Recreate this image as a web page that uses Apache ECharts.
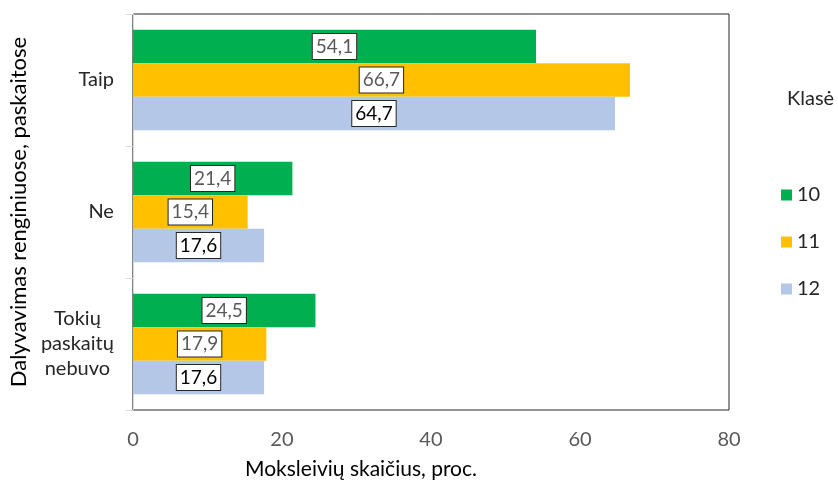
<!DOCTYPE html>
<html><head><meta charset="utf-8">
<script src="https://cdn.jsdelivr.net/npm/echarts@6/dist/echarts.min.js"></script>
<style>html,body{margin:0;padding:0;background:#fff}#c{width:838px;height:485px}</style>
</head><body><div id="c"></div>
<script>
const categories = ['Taip', 'Ne', 'Tokių\npaskaitų\nnebuvo'];
const seriesNames = ['10', '11', '12'];
const values10 = [54.1, 21.4, 24.5];
const values11 = [66.7, 15.4, 17.9];
const values12 = [64.7, 17.6, 17.6];
const xTicks = [0, 20, 40, 60, 80];

const colors = ['#00B050', '#FFC000', '#B4C7E7'];
const labelColors = ['#595959', '#595959', '#000000'];
const FONT = 'Lato';
const data = [values10, values11, values12];

const chart = echarts.init(document.getElementById('c'));
chart.setOption({
  animation: false,
  textStyle: { fontFamily: FONT },
  title: {
    text: 'Klasė', left: 787, top: 89, padding: 0,
    textStyle: { fontFamily: FONT, fontSize: 20, fontWeight: 'normal', color: '#262626' }
  },
  legend: {
    orient: 'vertical', left: 781, top: 185, itemGap: 27, padding: 0,
    itemWidth: 11, itemHeight: 11, icon: 'rect',
    data: seriesNames,
    textStyle: { fontFamily: FONT, fontSize: 20, color: '#262626' }
  },
  grid: {
    left: 131, right: 109, top: 14, bottom: 75,
    show: true, borderColor: '#262626', borderWidth: 1, backgroundColor: '#fff'
  },
  xAxis: {
    type: 'value', min: xTicks[0], max: xTicks[xTicks.length - 1], interval: 20,
    splitLine: { show: false },
    axisLine: { show: false }, axisTick: { show: false },
    axisLabel: { color: '#595959', fontSize: 20, margin: 20, fontFamily: FONT }
  },
  yAxis: {
    type: 'category', data: categories, inverse: true,
    name: 'Dalyvavimas renginiuose, paskaitose',
    nameLocation: 'middle', nameGap: 91, nameRotate: 90,
    nameTextStyle: { fontSize: 22, color: '#000', fontFamily: FONT },
    axisLine: { show: true, lineStyle: { color: '#D9D9D9', width: 1 } },
    axisTick: { show: true, length: 7, lineStyle: { color: '#D9D9D9' } },
    axisLabel: {
      color: '#262626', fontSize: 20, margin: 19, fontFamily: FONT, lineHeight: 25,
      formatter: function (v) {
        return v.split('\n').map(s => '{c|' + s + '}').join('\n');
      },
      rich: { c: { align: 'center', fontSize: 20, lineHeight: 25, color: '#262626', fontFamily: FONT } }
    }
  },
  graphic: [{
    type: 'text', left: 245, top: 459,
    style: { text: 'Moksleivių skaičius, proc.', font: '21px Lato', fill: '#000' }
  }],
  series: seriesNames.map((n, i) => ({
    name: n, type: 'bar', data: data[i],
    barGap: '0%', barCategoryGap: '24%',
    itemStyle: { color: colors[i] },
    label: {
      show: true, position: 'inside',
      formatter: p => String(p.value).replace('.', ','),
      color: labelColors[i], fontSize: 19, fontFamily: FONT,
      backgroundColor: '#fff', borderColor: '#262626', borderWidth: 1,
      padding: [4, 3, 2, 3]
    }
  }))
});
</script></body></html>
